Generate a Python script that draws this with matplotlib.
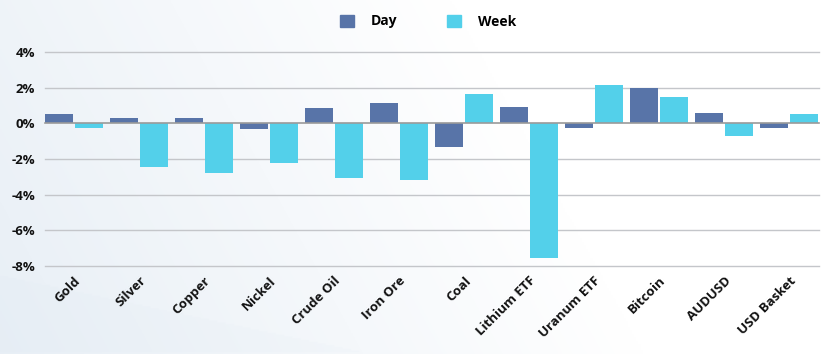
import numpy as np
import matplotlib
matplotlib.use("Agg")
import matplotlib.pyplot as plt
from matplotlib.patches import Patch

categories = ["Gold", "Silver", "Copper", "Nickel", "Crude Oil", "Iron Ore", "Coal",
              "Lithium ETF", "Uranum ETF", "Bitcoin", "AUDUSD", "USD Basket"]
day = [0.52, 0.30, 0.30, -0.30, 0.88, 1.16, -1.33, 0.93, -0.25, 1.98, 0.58, -0.28]
week = [-0.28, -2.44, -2.77, -2.25, -3.05, -3.17, 1.63, -7.53, 2.15, 1.48, -0.71, 0.52]
yticks = [-8, -6, -4, -2, 0, 2, 4]
ytick_labels = ["-8%", "-6%", "-4%", "-2%", "0%", "2%", "4%"]

DAY_C = "#5874a8"
WEEK_C = "#53d0ea"
FONT = ["Open Sans", "DejaVu Sans"]
plt.rcParams["font.family"] = FONT

W, H = 836, 354
fig = plt.figure(figsize=(W / 100, H / 100), dpi=100)

# subtle background gradient
bg = fig.add_axes([0, 0, 1, 1], zorder=-10)
bg.axis("off")
yy, xx = np.mgrid[0:1:200j, 0:1:400j]
g = np.clip(1.0 - 1.3 * xx - 0.3 * yy, 0, 1)
base = np.array([1.0, 1.0, 1.0])
tint = np.array([0.90, 0.93, 0.96])
img = base[None, None, :] * (1 - g[..., None] * 0.9) + tint[None, None, :] * (g[..., None] * 0.9)
swoosh = ((yy < 0.22 - 0.5 * xx) & (yy > 0.0)).astype(float) * 0.5
img = img * (1 - swoosh[..., None] * 0.15) + np.array([0.80, 0.86, 0.91])[None, None, :] * (swoosh[..., None] * 0.15)
bg.imshow(img, extent=[0, 1, 0, 1], aspect="auto", origin="lower")
bg.set_xlim(0, 1)
bg.set_ylim(0, 1)

ax = fig.add_axes([45 / W, 1 - 266 / H, (819 - 45) / W, (266 - 52) / H])
ax.patch.set_alpha(0)

x = np.arange(len(categories))
bw = 0.43
off = 0.23
ax.bar(x - off, day, width=bw, color=DAY_C, zorder=3)
ax.bar(x + off, week, width=bw, color=WEEK_C, zorder=3)

ax.set_xlim(-0.445, len(categories) - 1 + 0.46)
ax.set_ylim(-8, 4)
ax.set_yticks(yticks)
ax.set_yticklabels(ytick_labels, fontsize=9.5, fontweight="bold", color="#111111")
for yv in yticks:
    ax.axhline(yv, color="#9a9a9a" if yv == 0 else "#c4c6ca", lw=1.0 if yv != 0 else 1.2,
               zorder=1 if yv != 0 else 4, clip_on=False)
ax.set_xticks(x)
ax.set_xticklabels(categories, rotation=45, ha="right", rotation_mode="anchor",
                   fontsize=9.5, fontweight="bold", color="#111111")
ax.tick_params(axis="both", length=0)
ax.tick_params(axis="y", pad=7)
ax.tick_params(axis="x", pad=6)
for s in ax.spines.values():
    s.set_visible(False)

handles = [Patch(color=DAY_C, label="Day"), Patch(color=WEEK_C, label="Week")]
fig.legend(handles=handles, loc="upper center", bbox_to_anchor=(428 / W, 1 - 2 / H), ncol=2,
           frameon=False, prop={"family": FONT, "weight": "bold", "size": 10},
           handlelength=1.0, handleheight=1.0, columnspacing=3.65, handletextpad=1.2)

fig.savefig("out.png", dpi=100)
